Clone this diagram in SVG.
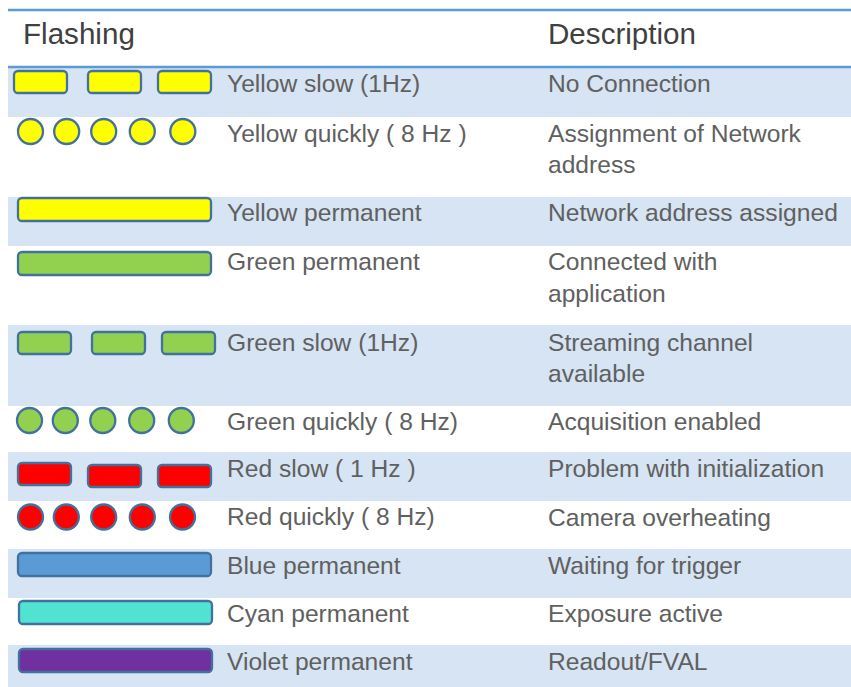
<svg xmlns="http://www.w3.org/2000/svg" width="851" height="687" viewBox="0 0 851 687">
<style>
.bg{fill:#D6E4F3}
.rule{stroke:#5B9BD5;stroke-width:2.5}
.hd{font-family:"Liberation Sans",Arial,sans-serif;font-size:29.6px;fill:#404040}
.tx{font-family:"Liberation Sans",Arial,sans-serif;font-size:24.6px;fill:#606060}
.led{stroke:#41719C;stroke-width:2.3}
.y{fill:#FFFF00}.g{fill:#92D050}.r{fill:#FF0000}.b{fill:#5B9BD5}.c{fill:#50E3D2}.v{fill:#7030A0}
</style>
<defs>
<rect id="seg" width="53" height="22" rx="4"/>
<rect id="bar" width="193" height="23" rx="4"/>
<circle id="dot" r="12.5"/>
</defs>
<g id="backgrounds">
<rect class="bg" x="8" y="68" width="843" height="49"/>
<rect class="bg" x="8" y="197" width="843" height="49"/>
<rect class="bg" x="8" y="325" width="843" height="81"/>
<rect class="bg" x="8" y="452" width="843" height="49"/>
<rect class="bg" x="8" y="549" width="843" height="49"/>
<rect class="bg" x="8" y="645" width="843" height="42"/>
<line class="rule" x1="8" y1="10" x2="851" y2="10"/>
<line class="rule" x1="8" y1="67" x2="851" y2="67"/>
</g>
<g id="header">
<text class="hd" x="23" y="44">Flashing</text>
<text class="hd" x="548" y="44">Description</text>
</g>
<g id="row-yellow-slow">
<use href="#seg" class="led y" x="14" y="71"/>
<use href="#seg" class="led y" x="88" y="71"/>
<use href="#seg" class="led y" x="158" y="71"/>
<text class="tx" x="227" y="92">Yellow slow (1Hz)</text>
<text class="tx" x="548" y="92">No Connection</text>
</g>
<g id="row-yellow-quickly">
<use href="#dot" class="led y" x="30.5" y="131.5"/>
<use href="#dot" class="led y" x="66.7" y="131.5"/>
<use href="#dot" class="led y" x="103.7" y="131.5"/>
<use href="#dot" class="led y" x="142.3" y="131.5"/>
<use href="#dot" class="led y" x="182.8" y="131.5"/>
<text class="tx" x="227" y="142">Yellow quickly ( 8 Hz )</text>
<text class="tx" x="548" y="142">Assignment of Network</text>
<text class="tx" x="548" y="173">address</text>
</g>
<g id="row-yellow-permanent">
<use href="#bar" class="led y" x="18" y="198" height="22"/>
<text class="tx" x="227" y="221">Yellow permanent</text>
<text class="tx" x="548" y="221">Network address assigned</text>
</g>
<g id="row-green-permanent">
<use href="#bar" class="led g" x="18" y="252"/>
<text class="tx" x="227" y="270">Green permanent</text>
<text class="tx" x="548" y="270">Connected with</text>
<text class="tx" x="548" y="302">application</text>
</g>
<g id="row-green-slow">
<use href="#seg" class="led g" x="18" y="332" height="23"/>
<use href="#seg" class="led g" x="92" y="332"/>
<use href="#seg" class="led g" x="162" y="332"/>
<text class="tx" x="227" y="351">Green slow (1Hz)</text>
<text class="tx" x="548" y="351">Streaming channel</text>
<text class="tx" x="548" y="382">available</text>
</g>
<g id="row-green-quickly">
<use href="#dot" class="led g" x="29.5" y="420.5"/>
<use href="#dot" class="led g" x="65.3" y="420.5"/>
<use href="#dot" class="led g" x="102.8" y="420.5"/>
<use href="#dot" class="led g" x="141.7" y="420.5"/>
<use href="#dot" class="led g" x="181.3" y="420.5"/>
<text class="tx" x="227" y="430">Green quickly ( 8 Hz)</text>
<text class="tx" x="548" y="430">Acquisition enabled</text>
</g>
<g id="row-red-slow">
<use href="#seg" class="led r" x="18" y="463"/>
<use href="#seg" class="led r" x="88" y="465"/>
<use href="#seg" class="led r" x="158" y="465"/>
<text class="tx" x="227" y="477">Red slow ( 1 Hz )</text>
<text class="tx" x="548" y="477">Problem with initialization</text>
</g>
<g id="row-red-quickly">
<use href="#dot" class="led r" x="30.5" y="517"/>
<use href="#dot" class="led r" x="66.3" y="517"/>
<use href="#dot" class="led r" x="103.7" y="517"/>
<use href="#dot" class="led r" x="142.3" y="517"/>
<use href="#dot" class="led r" x="182.5" y="517"/>
<text class="tx" x="227" y="525">Red quickly ( 8 Hz)</text>
<text class="tx" x="548" y="526">Camera overheating</text>
</g>
<g id="row-blue">
<use href="#bar" class="led b" x="18" y="553"/>
<text class="tx" x="227" y="574">Blue permanent</text>
<text class="tx" x="548" y="574">Waiting for trigger</text>
</g>
<g id="row-cyan">
<use href="#bar" class="led c" x="19" y="601"/>
<text class="tx" x="227" y="622">Cyan permanent</text>
<text class="tx" x="548" y="622">Exposure active</text>
</g>
<g id="row-violet">
<use href="#bar" class="led v" x="19" y="649"/>
<text class="tx" x="227" y="670">Violet permanent</text>
<text class="tx" x="548" y="670">Readout/FVAL</text>
</g>
</svg>
